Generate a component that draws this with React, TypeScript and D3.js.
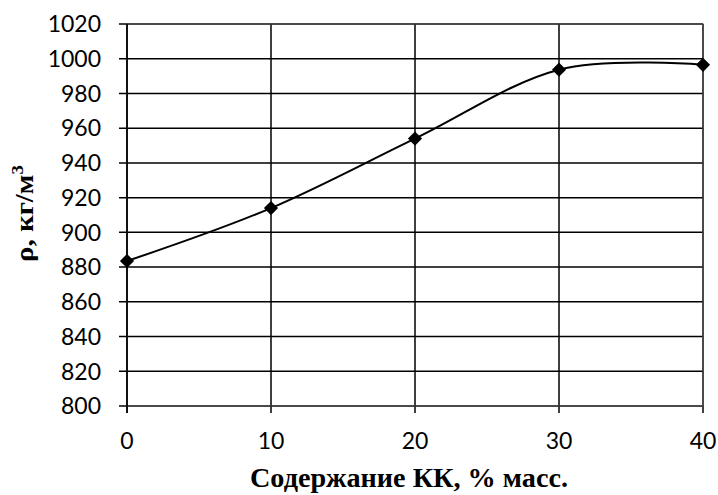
import React from 'react';
import * as d3 from 'd3';

// Density vs KK content
const contents = [0, 10, 20, 30, 40];
const densities = [883.5, 914, 954, 993.7, 996.5];
const xTicks = [0, 10, 20, 30, 40];
const yTicks = [800, 820, 840, 860, 880, 900, 920, 940, 960, 980, 1000, 1020];

const xTitle = 'Содержание КК, % масс.';
const yTitle = 'ρ, кг/м';

const W = 718;
const H = 495;
const margin = { left: 127, right: 15, top: 24, bottom: 89 };

const App: React.FC = () => {
  const x = d3.scaleLinear().domain([0, 40]).range([margin.left, W - margin.right]);
  const y = d3.scaleLinear().domain([800, 1020]).range([H - margin.bottom, margin.top]);

  const line = d3.line<number>()
    .x((_, i) => x(contents[i]))
    .y(d => y(d))
    .curve(d3.curveCardinal.tension(0));

  const diamond = d3.symbol().type(d3.symbolSquare).size(100)();

  const x0 = x(0), x1 = x(40), y0 = y(800), y1 = y(1020);

  return (
    <svg width={W} height={H} style={{ position: 'absolute', left: 0, top: 0, background: '#fff' }}>
      {/* horizontal grid + left ticks */}
      <g stroke="#000" strokeWidth={1.5}>
        {yTicks.map(t => (
          <line key={`gy${t}`} x1={x0 - 8} x2={x1} y1={y(t)} y2={y(t)} />
        ))}
        {xTicks.map(t => (
          <line key={`gx${t}`} x1={x(t)} x2={x(t)} y1={y1} y2={y0 + 7} />
        ))}
      </g>
      <rect x={x0} y={y1} width={x1 - x0} height={y0 - y1} fill="none" stroke="#555" strokeWidth={1} />
      <line x1={x0} x2={x0} y1={y1} y2={y0 + 7} stroke="#000" strokeWidth={1.5} />

      {/* tick labels */}
      <g fontFamily="Lato" fontSize={23} fill="#000">
        {yTicks.map(t => (
          <text key={`ly${t}`} x={x0 - 26} y={y(t)} dy="0.36em" textAnchor="end">{t}</text>
        ))}
        {xTicks.map(t => (
          <text key={`lx${t}`} x={x(t)} y={y0 + 43} textAnchor="middle">{t}</text>
        ))}
      </g>

      {/* data */}
      <path d={line(densities) ?? ''} fill="none" stroke="#000" strokeWidth={2} />
      {densities.map((d, i) => (
        <path key={`m${i}`} d={diamond ?? ''} fill="#000"
          transform={`translate(${x(contents[i])},${y(d)}) rotate(45)`} />
      ))}

      {/* axis titles */}
      <text x={250} y={487} textLength={318} lengthAdjust="spacingAndGlyphs"
        fontFamily="Liberation Serif" fontWeight="bold" fontSize={27}>{xTitle}</text>
      <text transform={`translate(33,262) rotate(-90)`} textLength={97} lengthAdjust="spacingAndGlyphs"
        fontFamily="Liberation Serif" fontWeight="bold" fontSize={26}>
        {yTitle}<tspan dy="-10" fontSize={17}>3</tspan>
      </text>
    </svg>
  );
};

export default App;
